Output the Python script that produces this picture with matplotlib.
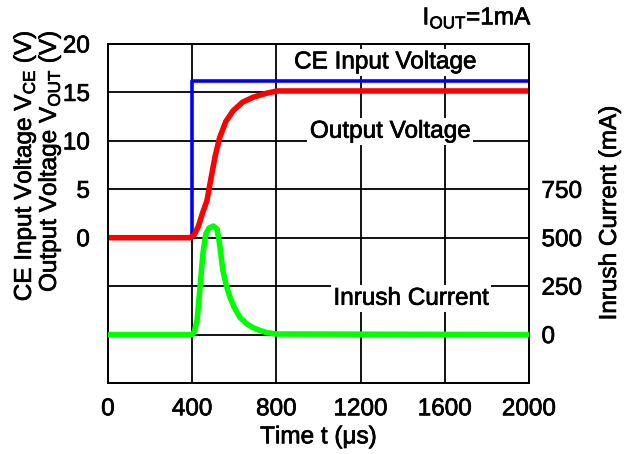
"""Inrush current / output voltage start-up waveform (CE turn-on)."""

import matplotlib

matplotlib.use("Agg")
import matplotlib.patheffects as pe
import matplotlib.pyplot as plt

plt.rcParams["font.family"] = ["Liberation Sans", "DejaVu Sans"]
plt.rcParams["mathtext.fontset"] = "custom"
plt.rcParams["mathtext.rm"] = "Liberation Sans"

# CE input voltage (V)
ce_t = [0, 400, 400, 2000]
ce_v = [0, 0, 16.2, 16.2]

# Output voltage (V)
out_t = [0, 390, 410, 430, 450, 470, 490, 510, 530, 560, 594, 640, 689, 750, 803, 900, 2000]
out_v = [0, 0, 0.3, 1.2, 2.6, 3.8, 6.2, 8.5, 10.3, 12.0, 13.1, 14.0, 14.5, 14.9, 15.15, 15.15, 15.15]

# Inrush current (mA)
inr_t = [0, 400, 410, 423, 437, 451, 465, 480, 500, 518, 530, 546, 563, 580, 600, 627,
         660, 689, 720, 755, 800, 2000]
inr_i = [0, 0, 15, 72, 240, 418, 520, 550, 560, 545, 470, 330, 250, 191, 140, 88,
         55, 36, 22, 10, 3, 0]

x_ticks = [0, 400, 800, 1200, 1600, 2000]
v_ticks = [-15, -10, -5, 0, 5, 10, 15, 20]
v_labels = ["", "", "", "0", "5", "10", "15", "20"]
i_ticks = [-250, 0, 250, 500, 750, 1000, 1250, 1500]
i_labels = ["", "0", "250", "500", "750", "", "", ""]

fs = 17.5
heavy = [pe.withStroke(linewidth=0.5, foreground="black")]

fig = plt.figure(figsize=(6.27, 4.54), dpi=100)
ax = fig.add_axes([0.1722, 0.1564, 0.6715, 0.7467])
ax2 = ax.twinx()

ax.plot(ce_t, ce_v, color="#0000ff", linewidth=2.6, zorder=3)
ax.plot(out_t, out_v, color="#ff0000", linewidth=4.0, zorder=4, solid_capstyle="round")
ax2.plot(inr_t, inr_i, color="#00ff00", linewidth=4.0, zorder=4, solid_capstyle="round")

ax.set_xlim(0, 2000)
ax.set_ylim(-15, 20)
ax2.set_ylim(-250, 1500)
ax.set_xticks(x_ticks)
ax.set_yticks(v_ticks)
ax.set_yticklabels(v_labels)
ax2.set_yticks(i_ticks)
ax2.set_yticklabels(i_labels)

ax.grid(True, color="black", linewidth=1.3)
ax.set_axisbelow(True)
for a in (ax, ax2):
    for sp in a.spines.values():
        sp.set_linewidth(1.3)
ax.tick_params(axis="both", length=0, labelsize=fs)
ax.tick_params(axis="y", pad=13)
ax.tick_params(axis="x", pad=11)
ax2.tick_params(axis="y", length=0, labelsize=fs, pad=9)

ax.set_xlabel(r"Time t ($\mathregular{\mu}$s)", fontsize=fs, labelpad=3)
ax2.set_ylabel("Inrush Current (mA)", fontsize=fs, labelpad=12)

fig.text(25 / 627, 1 - 31 / 454, r"CE Input Voltage V$_{\mathregular{CE}}$ (V)",
         rotation=90, ha="center", va="top", fontsize=fs)
fig.text(50 / 627, 1 - 31 / 454, r"Output Voltage V$_{\mathregular{OUT}}$ (V)",
         rotation=90, ha="center", va="top", fontsize=fs)
fig.text(532 / 627, 1 - 18 / 454, r"I$_{\mathregular{OUT}}$=1mA",
         ha="right", va="center", fontsize=fs)

box = dict(facecolor="white", edgecolor="none", pad=2)
ax.text(1316, 18.1, "CE Input Voltage", ha="center", va="center", fontsize=fs,
        bbox=box, zorder=5)
ax.text(1340, 10.95, "Output Voltage", ha="center", va="center", fontsize=fs,
        bbox=box, zorder=5)
ax.text(1439, -6.3, "Inrush Current", ha="center", va="center", fontsize=fs,
        bbox=box, zorder=5)

for t in fig.findobj(matplotlib.text.Text):
    t.set_path_effects(heavy)

fig.savefig("out.png", dpi=100)
